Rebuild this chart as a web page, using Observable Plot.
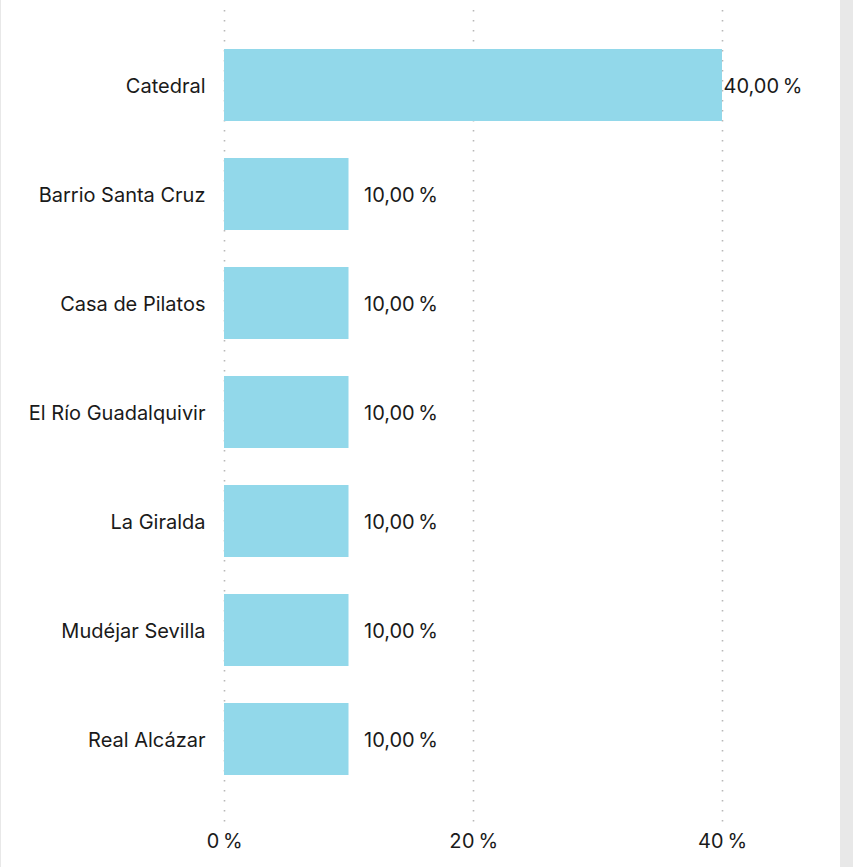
<!DOCTYPE html>
<html>
<head>
<meta charset="utf-8">
<script src="https://cdn.jsdelivr.net/npm/d3@7"></script>
<script src="https://cdn.jsdelivr.net/npm/@observablehq/plot@0.6"></script>
<style>
  html, body { margin: 0; padding: 0; background: #e8e8e8; }
  #panel { position: absolute; left: 1px; top: 0; width: 839px; height: 867px; background: #fff; }
  #panel svg { display: block; }
</style>
</head>
<body>
<div id="panel"></div>
<script>
const categories = ["Catedral", "Barrio Santa Cruz", "Casa de Pilatos", "El Río Guadalquivir", "La Giralda", "Mudéjar Sevilla", "Real Alcázar"];
const values = [40, 10, 10, 10, 10, 10, 10];
const xTicks = [0, 20, 40];

const data = categories.map((c, i) => ({category: c, value: values[i]}));
const maxValue = d3.max(values);

const es = d3.formatLocale({decimal: ",", thousands: ".", grouping: [3], currency: ["", " €"]});
const fmt2 = es.format(",.2f");
const fmt0 = es.format(",.0f");
const labelText = d => `${fmt2(d.value)}\u2009%`;

const FONT = "Inter, 'Noto Sans', sans-serif";

const chart = Plot.plot({
  width: 839,
  height: 867,
  marginLeft: 223,
  marginRight: 118,
  marginTop: 10,
  marginBottom: 45,
  style: {fontFamily: FONT, fontSize: "20px", color: "#1a1a1a", background: "#fff"},
  x: {domain: [0, 40], ticks: xTicks, tickFormat: d => `${fmt0(d)}\u2009%`, label: null},
  y: {domain: categories, label: null, paddingInner: 0.3405, paddingOuter: 0, insetTop: 37, insetBottom: 46},
  marks: [
    Plot.gridX(xTicks, {stroke: "#b8b8b8", strokeOpacity: 1, strokeWidth: 1.6, strokeDasharray: "1.5,8.5"}),
    Plot.barX(data, {x: "value", y: "category", fill: "#92d8ea"}),
    Plot.text(data.filter(d => d.value < maxValue), {x: "value", y: "category", text: labelText, textAnchor: "start", dx: 15, dy: 1, fill: "#1a1a1a"}),
    Plot.text(data.filter(d => d.value === maxValue), {x: "value", y: "category", text: labelText, textAnchor: "start", dx: 1, dy: 1, fill: "#1a1a1a"}),
    Plot.axisX({ticks: xTicks, tickFormat: d => `${fmt0(d)}\u2009%`, tickSize: 0, tickPadding: 11, label: null}),
    Plot.axisY({tickSize: 0, tickPadding: 19, dy: 1, label: null})
  ]
});
document.getElementById("panel").appendChild(chart);
</script>
</body>
</html>
